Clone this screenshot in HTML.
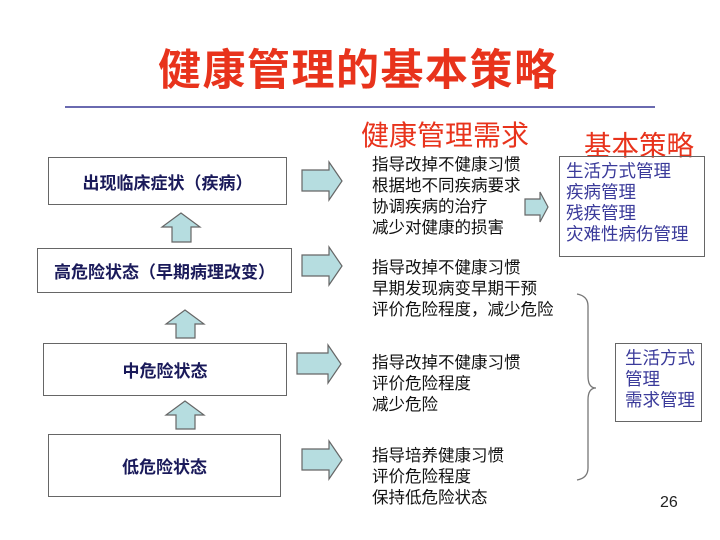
<!DOCTYPE html>
<html><head><meta charset="utf-8"><style>
body{margin:0;width:720px;height:540px;background:#fff;position:relative;overflow:hidden;font-family:"Liberation Sans","Noto Sans CJK SC",sans-serif}
.a{position:absolute;white-space:nowrap}
.box{position:absolute;border:1.5px solid #666;background:#fff;display:flex;align-items:center;justify-content:center;color:#1a1a5a;font-weight:bold;font-size:17px;box-sizing:border-box}
.t{position:absolute;left:372px;font-size:16.5px;line-height:21px;color:#111}
.r{color:#e8331c}
.b{color:#3a3a9a}
</style></head><body>
<div class="a r" style="left:158px;top:36px;font-size:43px;font-weight:bold;letter-spacing:1.5px">健康管理的基本策略</div>
<div class="a" style="left:65px;top:106px;width:590px;height:2px;background:#6a6ab0"></div>
<div class="a r" style="left:361px;top:114px;font-size:28px">健康管理需求</div>
<div class="a r" style="left:584px;top:123px;font-size:27.5px">基本策略</div>

<div class="box" style="left:48px;top:157px;width:239px;height:48px">出现临床症状（疾病）</div>
<div class="box" style="left:37px;top:248px;width:255px;height:45px">高危险状态（早期病理改变）</div>
<div class="box" style="left:43px;top:343px;width:244px;height:53px">中危险状态</div>
<div class="box" style="left:48px;top:434px;width:233px;height:63px">低危险状态</div>

<svg class="a" style="left:0;top:0" width="720" height="540">
<g fill="#b6dde0" stroke="#666" stroke-width="1.2">
<polygon points="172,242 172,227 162,227 181,213 200,227 191,227 191,242"/>
<polygon points="176,338 176,324 166,324 185,310 204,324 195,324 195,338"/>
<polygon points="176,429 176,415 166,415 185,401 204,415 195,415 195,429"/>
<polygon points="302,170 329,170 329,162 342,181 329,200 329,191 302,191"/>
<polygon points="302,255 329,255 329,247 342,266 329,285 329,276 302,276"/>
<polygon points="297,353 328,353 328,345 341,364 328,383 328,374 297,374"/>
<polygon points="302,449 329,449 329,441 342,460 329,479 329,470 302,470"/>
<polygon points="525,199 540,199 540,192 548,207 540,222 540,215 525,215"/>
</g>
<path d="M577,294 Q588,296 588,306 L588,376 Q588,388 596,388 Q588,388 588,400 L588,468 Q588,478 577,480" fill="none" stroke="#777" stroke-width="1.3"/>
</svg>

<div class="t" style="top:155px">指导改掉不健康习惯<br>根据地不同疾病要求<br>协调疾病的治疗<br>减少对健康的损害</div>
<div class="t" style="top:258px">指导改掉不健康习惯<br>早期发现病变早期干预<br>评价危险程度，减少危险</div>
<div class="t" style="top:353px">指导改掉不健康习惯<br>评价危险程度<br>减少危险</div>
<div class="t" style="top:446px">指导培养健康习惯<br>评价危险程度<br>保持低危险状态</div>

<div class="a b" style="left:559px;top:156px;width:146px;height:101px;border:1.5px solid #666;box-sizing:border-box;padding:4px 0 0 6px;font-size:17.5px;line-height:21px">生活方式管理<br>疾病管理<br>残疾管理<br>灾难性病伤管理</div>
<div class="a b" style="left:615px;top:343px;width:87px;height:79px;border:1.5px solid #666;box-sizing:border-box;padding:4px 0 0 9px;font-size:17.5px;line-height:21px">生活方式<br>管理<br>需求管理</div>
<div class="a" style="left:660px;top:494px;font-size:16px;color:#222">26</div>
</body></html>
